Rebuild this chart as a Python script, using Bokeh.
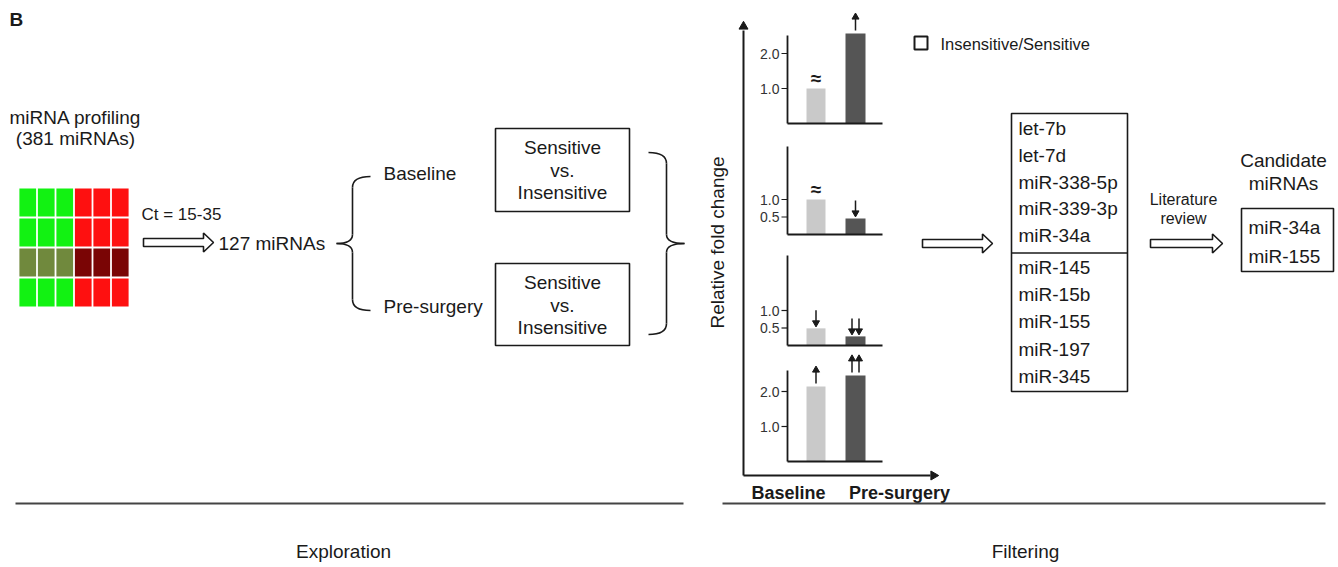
import math
from bokeh.plotting import figure
from bokeh.models import Range1d
from bokeh.core.properties import value
from bokeh.embed import file_html
from bokeh.resources import INLINE

# ---------------- data ----------------
panel_letter = "B"
profile_title = ["miRNA profiling", "(381 miRNAs)"]
heat_values = [
    [-1.0, -1.0, -1.0, 1.0, 1.0, 1.0],
    [-1.0, -1.0, -1.0, 1.0, 1.0, 1.0],
    [-0.5, -0.5, -0.5, 0.5, 0.5, 0.5],
    [-1.0, -1.0, -1.0, 1.0, 1.0, 1.0],
]
heat_colors = {-1.0: "#12f212", -0.5: "#70893d", 0.5: "#7a0505", 1.0: "#fe1010"}
filter_label = "Ct = 15-35"
filtered_label = "127 miRNAs"
timepoints = ["Baseline", "Pre-surgery"]
comparison_lines = ["Sensitive", "vs.", "Insensitive"]

yaxis_label = "Relative fold change"
legend_label = "Insensitive/Sensitive"
baseline_fc = [1.0, 1.0, 0.49, 2.14]
presurgery_fc = [2.57, 0.46, 0.26, 2.46]
baseline_trend = ["approx", "approx", "down", "up"]
presurgery_trend = ["up", "down", "down2", "up2"]
panel_ticks = [[1.0, 2.0], [0.5, 1.0], [0.5, 1.0], [1.0, 2.0]]
tick_labels = [["1.0", "2.0"], ["0.5", "1.0"], ["0.5", "1.0"], ["1.0", "2.0"]]

mirna_group1 = ["let-7b", "let-7d", "miR-338-5p", "miR-339-3p", "miR-34a"]
mirna_group2 = ["miR-145", "miR-15b", "miR-155", "miR-197", "miR-345"]
review_label = ["Literature", "review"]
candidate_title = ["Candidate", "miRNAs"]
candidates = ["miR-34a", "miR-155"]
stages = ["Exploration", "Filtering"]

# ---------------- layout / style ----------------
FONT = value("Liberation Sans")
INK = "#1a1a1a"
LIGHT = "#c9c9c9"
DARK = "#555555"
W, H = 1338, 567
PX_PER_UNIT = 35.0

p = figure(width=W, height=H, x_range=Range1d(0, W), y_range=Range1d(H, 0),
           output_backend="svg", toolbar_location=None, min_border=0,
           x_axis_location=None, y_axis_location=None)
p.grid.visible = False
p.outline_line_color = None
p.background_fill_color = "white"


def txt(x, y, s, size=19, align="left", bold=False, angle=0.0, color=INK, rng="default"):
    p.text(x=[x], y=[y], text=[s], text_font=FONT, text_font_size=f"{size}px",
           text_align=align, text_baseline="middle",
           text_font_style="bold" if bold else "normal", angle=angle,
           text_color=color, y_range_name=rng)


def line(xs, ys, w=1.6, color=INK, rng="default"):
    p.line(xs, ys, line_width=w, line_color=color, y_range_name=rng)


def box(l, r, t, b, w=1.6):
    p.quad(left=[l], right=[r], top=[t], bottom=[b], fill_color=None,
           line_color=INK, line_width=w)


def block_arrow(x0, x1, yc, shaft=4.0, head=9.5, hl=10.0):
    xs = [x0, x1 - hl, x1 - hl, x1, x1 - hl, x1 - hl, x0]
    ys = [yc - shaft, yc - shaft, yc - head, yc, yc + head, yc + shaft, yc + shaft]
    p.patch(xs, ys, fill_color="white", line_color=INK, line_width=1.6)


def brace(xv, top, bot, tip_x, end_x, mid):
    r = 11
    p.quadratic(x0=[end_x], y0=[top], x1=[xv], y1=[top + r], cx=[xv], cy=[top],
                line_color=INK, line_width=1.6)
    line([xv, xv], [top + r, mid - 9])
    p.quadratic(x0=[xv], y0=[mid - 9], x1=[tip_x], y1=[mid], cx=[xv], cy=[mid],
                line_color=INK, line_width=1.6)
    p.quadratic(x0=[tip_x], y0=[mid], x1=[xv], y1=[mid + 9], cx=[xv], cy=[mid],
                line_color=INK, line_width=1.6)
    line([xv, xv], [mid + 9, bot - r])
    p.quadratic(x0=[xv], y0=[bot - r], x1=[end_x], y1=[bot], cx=[xv], cy=[bot],
                line_color=INK, line_width=1.6)


# ---- panel letter ----
txt(9, 19, panel_letter, size=19, bold=True)

# ---- heatmap ----
HX0, HY0, CW, CH = 18.0, 187.0, 18.5, 30.0
hx, hy, hc = [], [], []
for r, row in enumerate(heat_values):
    for c, v in enumerate(row):
        hx.append(HX0 + (c + 0.5) * CW)
        hy.append(HY0 + (r + 0.5) * CH)
        hc.append(heat_colors[v])
p.rect(x=hx, y=hy, width=CW - 1.8, height=CH - 1.8, fill_color=hc, line_color=None)
txt(75, 117, profile_title[0], align="center")
txt(75, 138, profile_title[1], align="center")

txt(141, 214, filter_label, size=17)
block_arrow(143, 213, 242)
txt(218, 243, filtered_label)

# ---- brace to timepoints ----
brace(352, 176, 310, 336, 370, 243)
txt(383, 173, timepoints[0])
txt(383, 306, timepoints[1])

# ---- comparison boxes ----
for (t, b) in [(128, 211), (263, 345)]:
    box(495, 629, t, b)
    for i, s in enumerate(comparison_lines):
        txt(562, t + 19 + i * 22.5, s, align="center")

brace(666, 152, 334, 684, 648, 243)

# ---- bar panels ----
AX = 743
p.segment(x0=[AX], y0=[475], x1=[AX], y1=[30], line_color=INK, line_width=2)
p.segment(x0=[AX], y0=[475], x1=[930], y1=[475], line_color=INK, line_width=2)
p.scatter(x=[AX], y=[26], marker="triangle", size=9, fill_color=INK, line_color=INK)
p.scatter(x=[933], y=[475], marker="triangle", angle=-math.pi / 2, size=9,
          fill_color=INK, line_color=INK)
txt(717, 242, yaxis_label, size=19, align="center", angle=math.pi / 2)

panel_base = [123, 234, 345, 461]
panel_top = [35, 146, 255, 370]
PAX, PRIGHT = 787, 882
XL, XD = 815.5, 855.0
ranges = {}
for k, b in enumerate(panel_base):
    ranges[f"panel{k}"] = Range1d(start=(b - H) / PX_PER_UNIT, end=b / PX_PER_UNIT)
p.extra_y_ranges = ranges

GAP = 3 / PX_PER_UNIT
ALEN = 15 / PX_PER_UNIT


def trend(x, top, kind, rng):
    if kind == "approx":
        txt(x, top + 10 / PX_PER_UNIT, "\u2248", size=19, bold=True, align="center", rng=rng)
        return
    xs = [x] if kind in ("up", "down") else [x - 3.5, x + 3.5]
    for xx in xs:
        y0 = top + GAP
        y1 = y0 + ALEN
        p.segment(x0=[xx], y0=[y0], x1=[xx], y1=[y1], line_color=INK, line_width=1.5,
                  y_range_name=rng)
        if kind.startswith("up"):
            p.scatter(x=[xx], y=[y1 - 1.5 / PX_PER_UNIT], marker="triangle", size=7,
                      fill_color=INK, line_color=INK, y_range_name=rng)
        else:
            p.scatter(x=[xx], y=[y0 + 2.5 / PX_PER_UNIT], marker="inverted_triangle", size=7,
                      fill_color=INK, line_color=INK, y_range_name=rng)


for k in range(4):
    rng = f"panel{k}"
    topv = (panel_base[k] - panel_top[k]) / PX_PER_UNIT
    p.vbar(x=[XL], top=[baseline_fc[k]], bottom=0, width=19, fill_color=LIGHT,
           line_color=None, y_range_name=rng)
    p.vbar(x=[XD], top=[presurgery_fc[k]], bottom=0, width=20, fill_color=DARK,
           line_color=None, y_range_name=rng)
    line([PAX, PAX], [0, topv], w=1.8, rng=rng)
    line([PAX, PRIGHT], [0, 0], w=1.8, rng=rng)
    for tv, tl in zip(panel_ticks[k], tick_labels[k]):
        line([PAX - 6, PAX], [tv, tv], w=1.2, rng=rng)
        txt(PAX - 8, tv, tl, size=14, align="right", color="#333333", rng=rng)
    trend(XL, baseline_fc[k], baseline_trend[k], rng)
    trend(XD, presurgery_fc[k], presurgery_trend[k], rng)

txt(788, 492, timepoints[0], size=18, bold=True, align="center")
txt(899, 492, timepoints[1], size=18, bold=True, align="center")

# legend
p.rect(x=[920.5], y=[42.5], width=13, height=13, fill_color=None, line_color=INK, line_width=2)
txt(940, 43, legend_label, size=16.5)

# ---- filtering list ----
block_arrow(922, 992, 243)
box(1011, 1127, 113, 391)
line([1011, 1127], [252.5, 252.5])
for i, s in enumerate(mirna_group1):
    txt(1018, 128 + i * 26.8, s)
for i, s in enumerate(mirna_group2):
    txt(1018, 267 + i * 27.2, s)

txt(1183, 199, review_label[0], size=16, align="center")
txt(1183, 218, review_label[1], size=16, align="center")
block_arrow(1150, 1222, 243)

txt(1283, 160, candidate_title[0], align="center")
txt(1283, 183, candidate_title[1], align="center")
box(1241, 1333, 208, 271)
for i, s in enumerate(candidates):
    txt(1248, 227 + i * 28.5, s)

# ---- stage lines ----
line([15, 683], [503, 503], w=2, color="#444444")
line([722, 1325], [503, 503], w=2, color="#444444")
txt(343, 551, stages[0], size=19, align="center")
txt(1025, 551, stages[1], size=19, align="center")

open("out.html", "w").write(file_html(p, INLINE))
